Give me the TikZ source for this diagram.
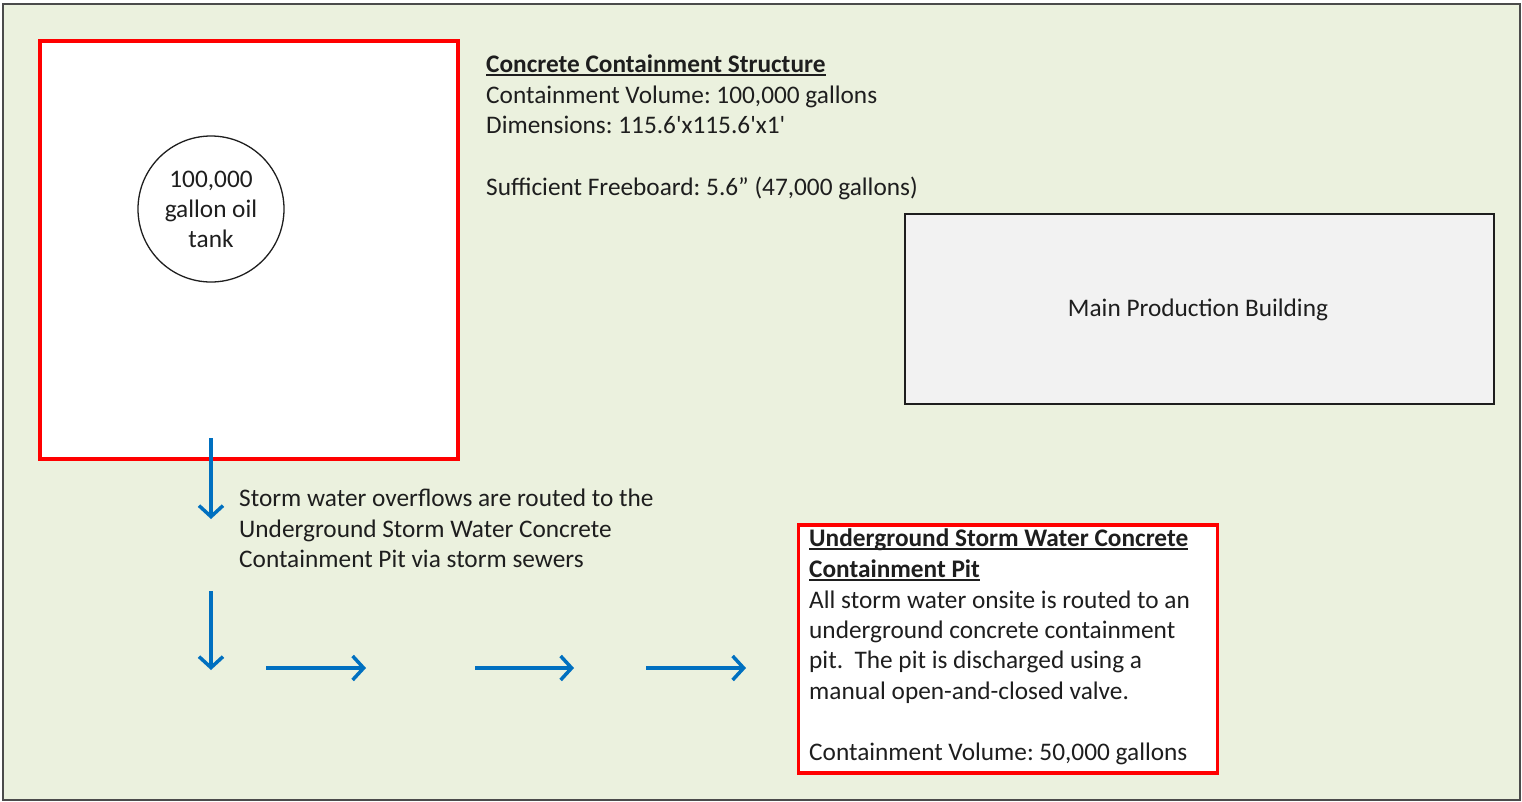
\documentclass[tikz,border=0pt]{standalone}
\usepackage{fontspec}
\setmainfont{Carlito}[Ligatures=TeXOff]
\usetikzlibrary{arrows.meta}
\definecolor{bgreen}{HTML}{EBF1DE}
\definecolor{flowblue}{HTML}{0070C0}
\definecolor{bred}{HTML}{FF0000}
\definecolor{bldg}{HTML}{F2F2F2}
\definecolor{ink}{HTML}{1E1E1E}
\newcommand\ulin[1]{\setbox0\hbox{#1}\rlap{\rule[-3.8pt]{\wd0}{1.9pt}}\box0}
\tikzset{
  txt/.style={anchor=base west, inner sep=0pt, text=ink, font=\fontsize{25.3}{30}\selectfont},
  ctxt/.style={anchor=base, inner sep=0pt, text=ink, font=\fontsize{25.3}{30}\selectfont},
  redbox/.style={draw=bred, line width=3.5pt, fill=white, inner sep=0pt},
  flow/.style={draw=flowblue, line width=3.5pt, -{Straight Barb[length=11pt,width=24pt]}},
}
\frenchspacing
\begin{document}
\begin{tikzpicture}[x=1pt,y=-1pt]
\useasboundingbox (0,0) rectangle (1522,801);
\fill[white] (0,0) rectangle (1522,801);
\draw[fill=bgreen, draw=ink!80, line width=1.5pt] (3,4) rectangle (1520,800);

% containment structure
\node[redbox, minimum width=418pt, minimum height=418pt] (cs) at (249,250) {};
\node[draw=ink, line width=1.3pt, fill=white, circle, minimum size=146pt, inner sep=0pt] (tank) at (211,209) {};
\node[ctxt] (t1) at (211,187.5) {100,000};
\node[ctxt] (t2) at (211,217.5) {gallon oil};
\node[ctxt] (t3) at (211,247) {tank};

% info text
\node[txt] (c1) at (486,72) {\bfseries\ulin{Concrete Containment Structure}};
\node[txt] (c2) at (486,103.5) {Containment Volume: 100,000 gallons};
\node[txt] (c3) at (486,133.5) {Dimensions: 115.6'x115.6'x1'};
\node[txt] (c4) at (486,195) {Sufficient Freeboard: 5.6” (47,000 gallons)};

% building
\node[draw=ink, line width=1.3pt, fill=bldg, minimum width=589pt, minimum height=190pt, inner sep=0pt] (bldg) at (1199.5,309) {};
\node[ctxt] (bl) at (1198,316.5) {Main Production Building};

% storm text
\node[txt] (s1) at (239,506.5) {Storm water overflows are routed to the};
\node[txt] (s2) at (239,537) {Underground Storm Water Concrete};
\node[txt] (s3) at (239,567) {Containment Pit via storm sewers};

% pit
\node[redbox, minimum width=419pt, minimum height=248pt] (pit) at (1008,649) {};
\node[txt] (p1) at (809,546.5) {\bfseries\ulin{Underground Storm Water Concrete}};
\node[txt] (p2) at (809,577.5) {\bfseries\ulin{Containment Pit}};
\node[txt] (p3) at (809,608) {All storm water onsite is routed to an};
\node[txt] (p4) at (809,638.5) {underground concrete containment};
\node[txt] (p5) at (809,668.5) {pit.\ \ The pit is discharged using a};
\node[txt] (p6) at (809,699) {manual open-and-closed valve.};
\node[txt] (p7) at (809,760) {Containment Volume: 50,000 gallons};

% flow arrows
\coordinate (a1s) at (211,438);
\coordinate (a1e) at (211,519);
\coordinate (a2s) at (211,591);
\coordinate (a2e) at (211,670);
\coordinate (h1s) at (266,668);
\coordinate (h1e) at (366,668);
\coordinate (h2s) at (475,668);
\coordinate (h2e) at (574,668);
\coordinate (h3s) at (646,668);
\coordinate (h3e) at (746,668);
\draw[flow] (a1s) -- (a1e);
\draw[flow] (a2s) -- (a2e);
\draw[flow] (h1s) -- (h1e);
\draw[flow] (h2s) -- (h2e);
\draw[flow] (h3s) -- (h3e);
\end{tikzpicture}
\end{document}
